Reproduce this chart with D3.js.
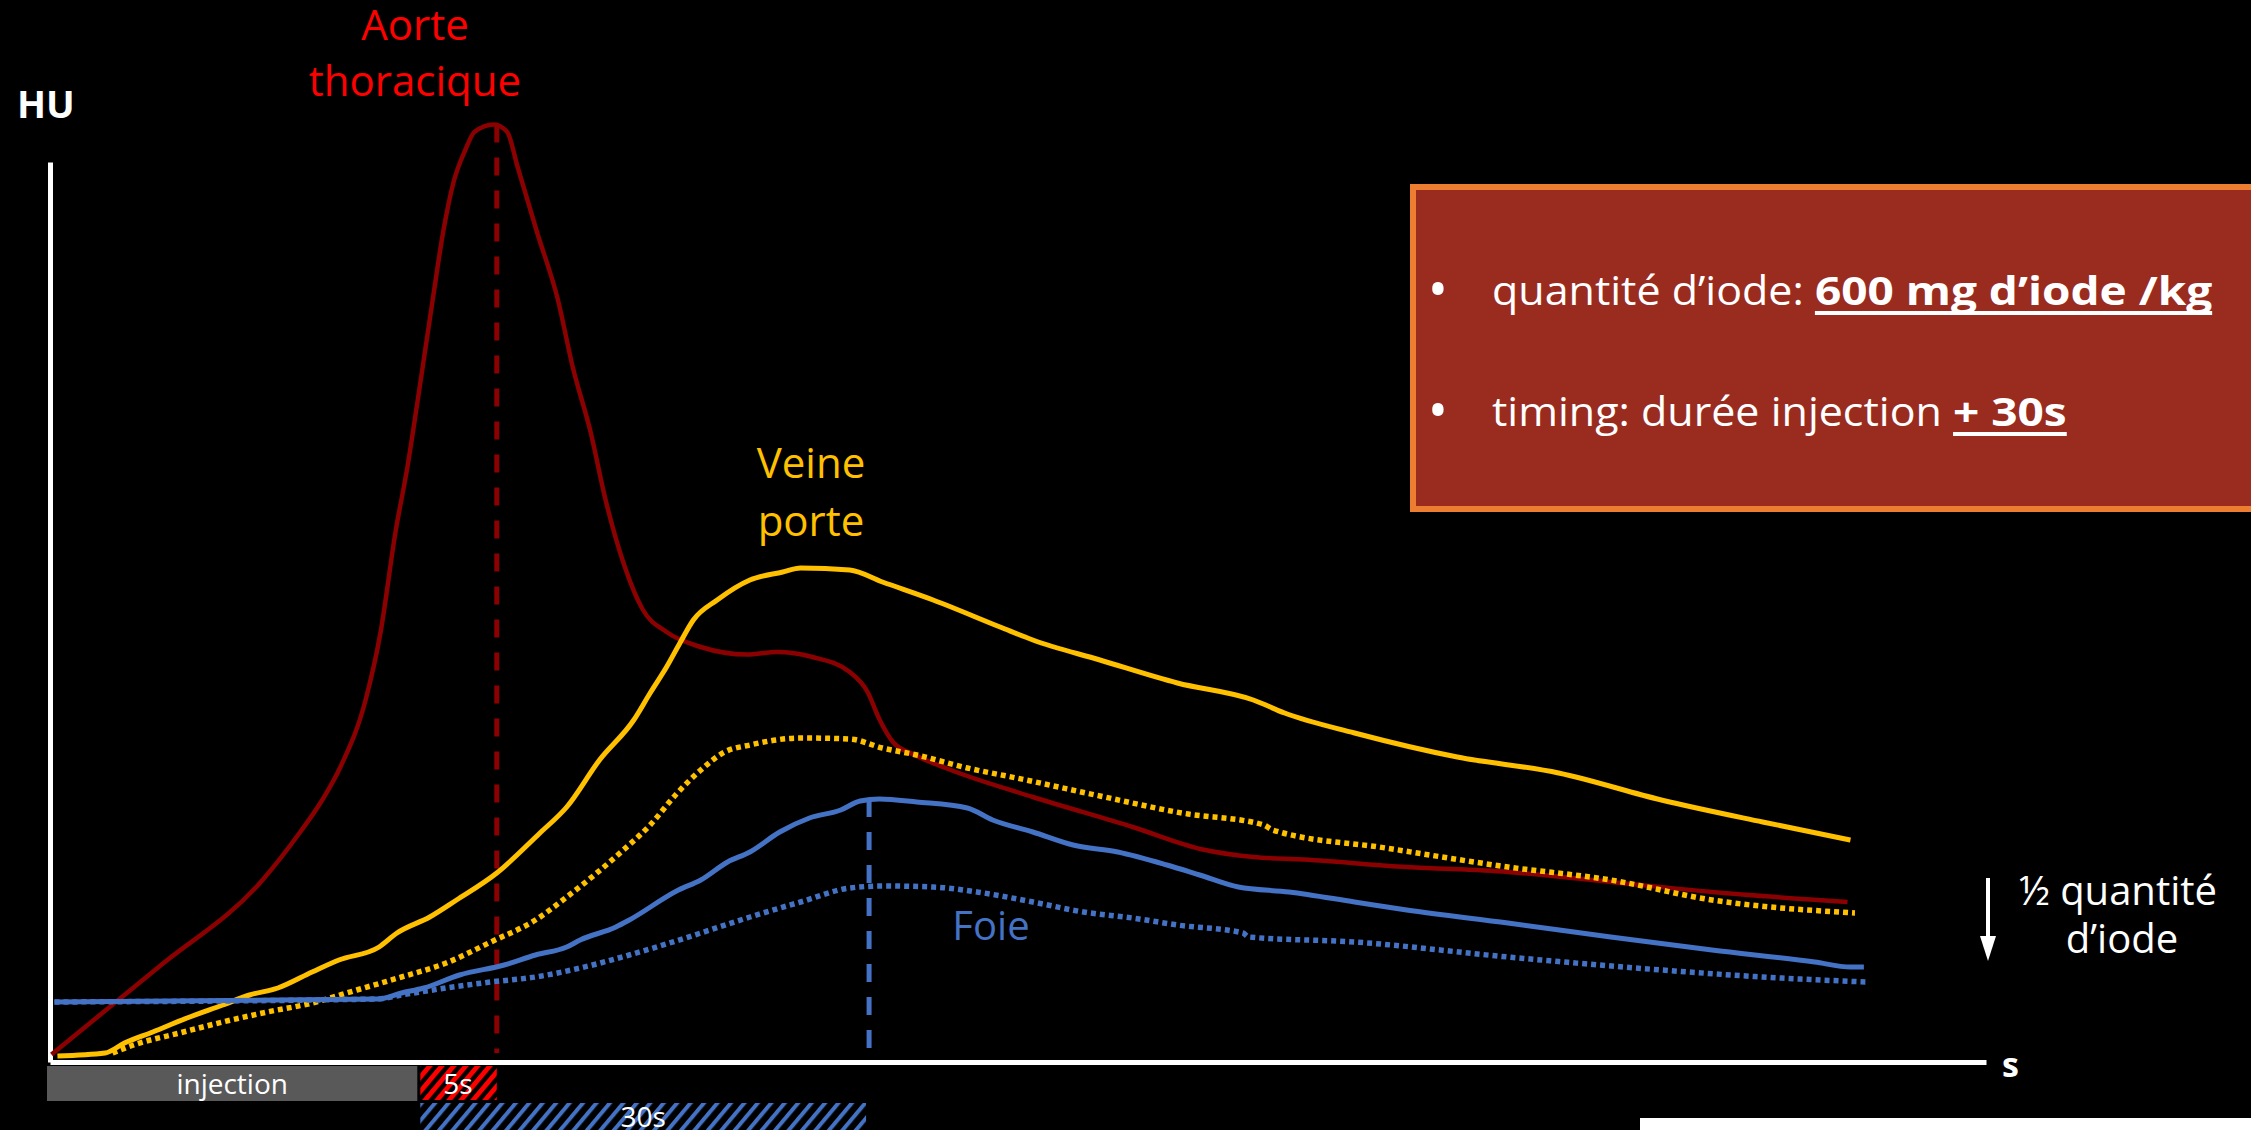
<!DOCTYPE html>
<html><head><meta charset="utf-8">
<script src="https://cdn.jsdelivr.net/npm/d3@7"></script>
<style>html,body{margin:0;padding:0;background:#000;} svg{display:block;}</style>
</head><body>
<svg id="chart" width="2251" height="1130"></svg>
<script>
// ---- data: [time (s), HU] ----
const aorte = [[0.1,3],[7.3,38],[14.3,73],[16.8,92],[18.3,105],[19.5,118],[21.2,145],[22.2,172],[23.2,212],[24.0,238],[24.7,265],[25.7,305],[26.4,332],[27.1,352],[27.9,365],[28.5,372],[29.8,375],[30.7,372],[31.4,358],[32.7,332],[34.1,305],[35.1,278],[36.3,252],[37.3,225],[38.6,198],[39.8,181],[41.4,172],[43.7,166],[46.8,163],[48.8,164],[51.2,162],[53.7,156],[54.9,148],[55.7,137],[56.6,128],[58.0,123],[60.4,117],[66.0,106],[72.7,94],[77.4,85],[80.8,82],[84.2,81],[91.1,78],[97.9,76],[104.8,72],[111.6,68],[120.7,64]];
const veinePorte = [[0.5,2.4],[3.7,3.6],[5.0,7.6],[6.9,12],[9.2,17.6],[11.6,22.8],[13.4,26.8],[15.3,29.6],[17.6,36],[19.4,40.8],[22.1,46],[23.3,51.6],[25.5,58],[27.3,64.8],[30.0,75.6],[32.9,91.6],[34.7,102],[36.9,120.8],[39.2,136.8],[40.3,147.6],[41.4,158],[42.3,167.6],[43.2,176.8],[44.8,184.8],[47.0,192.8],[49.2,196],[50.4,197.6],[53.7,196.8],[55.9,192],[59.3,184.8],[63.8,174],[66.0,168.8],[70.5,160.8],[75.7,151.6],[80.8,144.8],[82.9,139.6],[87.6,131.6],[94.5,122],[101.3,115.6],[108.2,104.8],[115.0,96],[120.9,88.8]];
const veinePorteDemi = [[4.2,3.6],[5.6,6.8],[8.7,11.6],[11.6,16],[14.6,20],[17.6,23.6],[20.6,28.8],[23.6,34],[26.6,39.6],[29.6,48],[32.6,56.8],[34.7,66],[38.5,84.8],[40.3,94.8],[42.0,106.8],[43.7,116.8],[45.3,124],[47.0,126.8],[50.4,129.6],[53.7,129.2],[55.9,125.6],[58.2,122.8],[61.6,117.6],[64.9,113.6],[70.5,106.4],[76.0,99.6],[81.5,94.8],[82.1,92.8],[89.7,85.6],[97.9,78],[104.8,72.8],[111.6,64.8],[121.2,59.6]];
const foie = [[0.3,24],[22.0,25.2],[23.6,27.6],[25.1,29.6],[27.5,34.8],[30.5,38.8],[32.6,42.8],[34.7,46],[35.6,48.8],[38.0,54],[38.9,56.8],[42.2,68.8],[43.7,72.8],[45.5,80],[47.0,84],[49.0,92],[51.0,97.6],[53.1,100.8],[54.4,104.4],[55.7,105.2],[58.2,104],[61.6,101.6],[63.3,96.8],[66.0,92],[68.7,86.8],[71.7,84],[75.0,78.8],[77.2,74.8],[79.8,70],[83.2,68],[87.6,64],[91.1,60.8],[97.9,55.6],[104.8,50],[111.6,44.8],[118.5,40],[120.9,38],[121.8,38]];
const foieDemi = [[0.3,24],[22.0,25.2],[23.6,26.8],[26.6,29.6],[29.6,32],[32.6,34],[35.6,37.6],[38.9,42.8],[41.6,47.6],[43.7,51.6],[47.0,58],[50.4,64],[53.7,69.6],[55.9,70.4],[59.3,70],[62.7,67.6],[66.0,64],[69.4,60],[72.7,57.6],[75.7,54.8],[80.1,51.6],[80.5,50],[87.6,48],[97.9,42],[108.2,36.8],[115.0,34],[121.9,32]];

const phaseLabels = ['injection','5s','30s'];
const phaseStart = [0,25,25];
const phaseEnd = [25,30,55];

const labelAorte = ['Aorte','thoracique'];
const labelVeine = ['Veine','porte'];
const labelFoie = 'Foie';
const labelDemi = ['½ quantité','d’iode'];

// ---- setup ----
const W = 2251, H = 1130;
const FONT = "'Open Sans','Noto Sans',sans-serif";
const svg = d3.select('#chart');
svg.append('rect').attr('width',W).attr('height',H).attr('fill','#000');

const x = d3.scaleLinear().domain([0,130]).range([50,1986]);
const y = d3.scaleLinear().domain([0,400]).range([1062,62]);

const defs = svg.append('defs');
function hatch(id, color, period, width){
  const p = defs.append('pattern').attr('id',id).attr('patternUnits','userSpaceOnUse')
    .attr('width',period).attr('height',period).attr('patternTransform','rotate(40)');
  p.append('rect').attr('width',period).attr('height',period).attr('fill','#000');
  p.append('rect').attr('width',width).attr('height',period).attr('fill',color);
}
hatch('hatchRed','#FF0000',9.2,4.8);
hatch('hatchBlue','#4472C4',10.3,4);

// ---- info box ----
const box = svg.append('g');
box.append('rect').attr('x',1413).attr('y',187).attr('width',900).attr('height',322)
  .attr('fill','#9A2C1F').attr('stroke','#ED7D31').attr('stroke-width',6);
function boxLine(yb, reg, bold){
  box.append('text').attr('x',1438).attr('y',yb+4).attr('text-anchor','middle')
    .attr('font-family',FONT).attr('font-size',54).attr('fill','#fff').text('•');
  const sR = 1.075, sB = 1.15;
  const g1 = box.append('g').attr('transform',`translate(1492,${yb}) scale(${sR},1)`);
  const t1 = g1.append('text').attr('font-family',FONT).attr('font-size',40).attr('fill','#fff')
    .style('white-space','pre').text(reg);
  const space = g1.append('text').attr('font-family',FONT).attr('font-size',40).attr('fill','none')
    .text('a a');
  const spaceW = space.node().getComputedTextLength();
  const aW = g1.append('text').attr('font-family',FONT).attr('font-size',40).attr('fill','none').text('aa');
  const sw = spaceW - aW.node().getComputedTextLength();
  space.remove(); aW.remove();
  const regLen = t1.node().getComputedTextLength();
  const x2 = 1492 + (regLen + (reg.endsWith(' ') && regLen < 1 ? 0 : 0))*sR;
  // ensure trailing space counted
  const trimmedLen = g1.append('text').attr('font-family',FONT).attr('font-size',40).attr('fill','none').text(reg.trimEnd());
  const tl = trimmedLen.node().getComputedTextLength(); trimmedLen.remove();
  const xStart = 1492 + Math.max(regLen, tl + sw)*sR;
  const g2 = box.append('g').attr('transform',`translate(${xStart},${yb}) scale(${sB},1)`);
  const t2 = g2.append('text').attr('font-family',FONT).attr('font-size',40).attr('font-weight','bold')
    .attr('fill','#fff').text(bold);
  const len = t2.node().getComputedTextLength();
  g2.append('line').attr('x1',0).attr('x2',len).attr('y1',8).attr('y2',8)
    .attr('stroke','#fff').attr('stroke-width',4);
}
boxLine(305,'quantité d’iode: ','600 mg d’iode /kg');
boxLine(426,'timing: durée injection ','+ 30s');

// ---- axes ----
const yAxisScale = d3.scaleLinear().domain([0,360]).range([y(0),y(360)]);
svg.append('g').attr('transform',`translate(${x(0)},0)`)
  .call(d3.axisLeft(yAxisScale).tickValues([]).tickSizeOuter(0))
  .call(g=>g.select('.domain').attr('stroke','#fff').attr('stroke-width',5));
svg.append('g').attr('transform',`translate(0,${y(0)})`)
  .call(d3.axisBottom(x).tickValues([]).tickSizeOuter(0))
  .call(g=>g.select('.domain').attr('stroke','#fff').attr('stroke-width',5));

svg.append('text').attr('x',17).attr('y',118).attr('font-family',FONT).attr('font-weight','bold')
  .attr('font-size',38).attr('fill','#fff').text('HU');
svg.append('text').attr('x',2002).attr('y',1077).attr('font-family',FONT).attr('font-weight','bold')
  .attr('font-size',34).attr('fill','#fff').text('s');

// ---- vertical dashed markers ----
const aortePeak = d3.greatest(aorte, d=>d[1]);
const foiePeak = d3.greatest(foie, d=>d[1]);
svg.append('line').attr('x1',x(phaseEnd[1])).attr('x2',x(phaseEnd[1]))
  .attr('y1',y(aortePeak[1])).attr('y2',y(0)-9)
  .attr('stroke','#8B0000').attr('stroke-width',5).attr('stroke-dasharray','18,15');
svg.append('line').attr('x1',x(phaseEnd[2])).attr('x2',x(phaseEnd[2]))
  .attr('y1',y(foiePeak[1])).attr('y2',y(0)-9)
  .attr('stroke','#4472C4').attr('stroke-width',5).attr('stroke-dasharray','18,15');

// ---- curves ----
const line = d3.line().x(d=>x(d[0])).y(d=>y(d[1])).curve(d3.curveMonotoneX);
function curve(data, color, w, dash){
  const p = svg.append('path').datum(data).attr('d',line).attr('fill','none')
    .attr('stroke',color).attr('stroke-width',w).attr('stroke-linejoin','round');
  if(dash) p.attr('stroke-dasharray',dash);
}
curve(aorte,'#8B0000',4.5);
curve(veinePorteDemi,'#FFC000',5.5,'5,4');
curve(veinePorte,'#FFC000',5);
curve(foieDemi,'#4472C4',5.5,'5,4');
curve(foie,'#4472C4',5);

// ---- labels ----
labelAorte.forEach((s,i)=>svg.append('text').attr('x',415).attr('y',40+i*56).attr('text-anchor','middle')
  .attr('font-family',FONT).attr('font-size',42).attr('fill','#FF0000').text(s));
labelVeine.forEach((s,i)=>svg.append('text').attr('x',811).attr('y',478+i*58).attr('text-anchor','middle')
  .attr('font-family',FONT).attr('font-size',42).attr('fill','#FFC000').text(s));
svg.append('text').attr('x',991).attr('y',940).attr('text-anchor','middle')
  .attr('font-family',FONT).attr('font-size',40).attr('fill','#4472C4').text(labelFoie);

// half-dose annotation
svg.append('line').attr('x1',1988).attr('x2',1988).attr('y1',878).attr('y2',940)
  .attr('stroke','#fff').attr('stroke-width',4);
svg.append('path').attr('d','M1980,936L1996,936L1988,961Z').attr('fill','#fff');
[[2118,905],[2122,953]].forEach((p,i)=>svg.append('text').attr('x',p[0]).attr('y',p[1])
  .attr('text-anchor','middle').attr('font-family',FONT).attr('font-size',40).attr('fill','#fff').text(labelDemi[i]));

// ---- phase bars ----
const rowY = [1066,1066,1103];
const rowH = [35,34,30];
const fills = ['#595959','url(#hatchRed)','url(#hatchBlue)'];
const adjL = [-3,-2,-2];
const adjR = [-5,0,-3];
const textY = [1094,1094,1127];
phaseLabels.forEach((lab,i)=>{
  const x0 = x(phaseStart[i])+adjL[i], x1 = x(phaseEnd[i])+adjR[i];
  svg.append('rect').attr('x',x0).attr('y',rowY[i]).attr('width',x1-x0).attr('height',rowH[i]).attr('fill',fills[i]);
  svg.append('text').attr('x',i===1?458:(x0+x1)/2).attr('y',textY[i]).attr('text-anchor','middle')
    .attr('font-family',FONT).attr('font-size',28).attr('fill','#fff').text(lab);
});

// white strip bottom-right
svg.append('rect').attr('x',1640).attr('y',1118).attr('width',W-1640).attr('height',H-1118).attr('fill','#fff');
</script>
</body></html>
